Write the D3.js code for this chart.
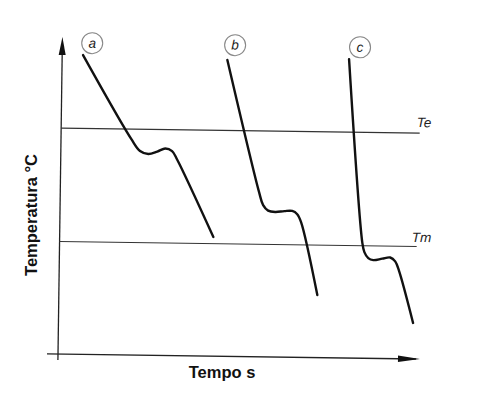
<!DOCTYPE html>
<html>
<head>
<meta charset="utf-8">
<script src="https://cdn.jsdelivr.net/npm/d3@7"></script>
<style>
  body { margin: 0; background: #fff; }
  svg { display: block; }
  .lbl { font-family: "Liberation Sans", Arial, sans-serif; font-weight: bold; font-size: 16.5px; fill: #111; }
  .ital { font-family: "Liberation Sans", Arial, sans-serif; font-style: italic; font-size: 13.5px; fill: #222; }
</style>
</head>
<body>
<svg id="chart" width="499" height="419"></svg>
<script>
// cooling curves, arbitrary units (time 0-100, temperature 0-100)
const curveNames = ["a", "b", "c"];
const timeA = [5.8, 19.5, 22.0, 24.3, 26.8, 29.0, 30.9, 32.4, 42.7];
const tempA = [94.7, 68.4, 64.6, 63.7, 64.5, 65.5, 64.7, 61.9, 37.7];
const timeB = [45.9, 55.2, 56.4, 57.8, 59.8, 62.3, 64.5, 65.9, 67.0, 71.8];
const tempB = [93.8, 52.2, 48.0, 46.3, 45.9, 46.2, 46.3, 45.3, 42.8, 19.8];
const timeC = [79.7, 84.1, 84.7, 85.8, 87.2, 89.7, 91.9, 93.3, 94.4, 98.5];
const tempC = [94.6, 36.5, 33.6, 31.7, 31.1, 31.6, 32.0, 30.8, 27.8, 11.4];
// circled labels above each curve
const tagTime = [8.3, 48.0, 82.7];
const tagTemp = [98.5, 98.5, 98.4];
// reference temperatures
const refNames = ["Te", "Tm"];
const refTemp = [71.5, 35.6];
const refEnd = [99.6, 99.2];

const xLabel = "Tempo s";
const yLabel = "Temperatura °C";

const svg = d3.select("#chart");
const x = d3.scaleLinear().domain([0, 100]).range([58, 418]);
const y = d3.scaleLinear().domain([0, 100]).range([354, 38]);

// the scanned figure is slightly tilted
const g = svg.append("g").attr("transform", "rotate(0.8," + x(0) + "," + y(0) + ")");

// axes
g.append("line")
  .attr("x1", x(0) - 11).attr("x2", x(100) - 2)
  .attr("y1", y(0)).attr("y2", y(0))
  .attr("stroke", "#222").attr("stroke-width", 1.3);
g.append("path")
  .attr("d", `M${x(100) + 2},${y(0)} L${x(100) - 20},${y(0) - 3.2} L${x(100) - 20},${y(0) + 3.2} Z`)
  .attr("fill", "#111");
g.append("line")
  .attr("x1", x(0)).attr("x2", x(0))
  .attr("y1", y(0) + 6).attr("y2", y(100) + 10)
  .attr("stroke", "#222").attr("stroke-width", 1.3);
g.append("path")
  .attr("d", `M${x(0)},${y(100) - 1} L${x(0) - 3.5},${y(100) + 17} L${x(0) + 3.5},${y(100) + 17} Z`)
  .attr("fill", "#111");

// Te / Tm lines
refNames.forEach((n, i) => {
  g.append("line")
    .attr("x1", x(0)).attr("x2", x(refEnd[i]))
    .attr("y1", y(refTemp[i])).attr("y2", y(refTemp[i]))
    .attr("stroke", "#333").attr("stroke-width", 1.2);
  g.append("text")
    .attr("class", "ital")
    .attr("x", x(refEnd[i]) - (i == 0 ? 3 : 5))
    .attr("y", y(refTemp[i]) - (i == 0 ? 6 : 4.5))
    .text(n);
});

// curves
const series = [
  d3.zip(timeA, tempA),
  d3.zip(timeB, tempB),
  d3.zip(timeC, tempC)
];
const line = d3.line()
  .x(d => x(d[0]))
  .y(d => y(d[1]))
  .curve(d3.curveCatmullRom.alpha(0.5));

g.selectAll(".cool").data(series).enter().append("path")
  .attr("class", "cool")
  .attr("d", line)
  .attr("fill", "none")
  .attr("stroke", "#111")
  .attr("stroke-width", 2.4)
  .attr("stroke-linecap", "round")
  .attr("stroke-linejoin", "round");

// circled tags
curveNames.forEach((n, i) => {
  g.append("circle")
    .attr("cx", x(tagTime[i])).attr("cy", y(tagTemp[i]))
    .attr("r", 10.5)
    .attr("fill", "none").attr("stroke", "#888").attr("stroke-width", 1.1);
  g.append("text")
    .attr("class", "ital")
    .attr("x", x(tagTime[i])).attr("y", y(tagTemp[i]) + 4.5)
    .attr("text-anchor", "middle")
    .text(n);
});

// titles
svg.append("text")
  .attr("class", "lbl")
  .attr("x", 222).attr("y", 378)
  .attr("text-anchor", "middle")
  .text(xLabel);
svg.append("text")
  .attr("class", "lbl")
  .attr("transform", "translate(37,215) rotate(-90)")
  .attr("text-anchor", "middle")
  .text(yLabel);
</script>
</body>
</html>
